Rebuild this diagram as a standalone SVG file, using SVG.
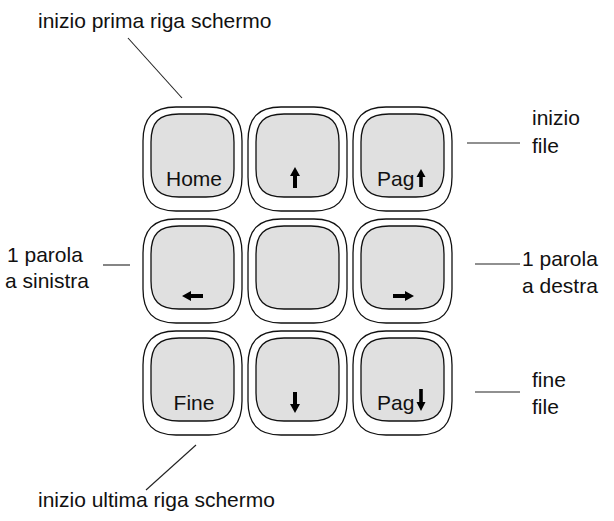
<svg xmlns="http://www.w3.org/2000/svg" xmlns:xlink="http://www.w3.org/1999/xlink" width="614" height="521" viewBox="0 0 614 521">
  <style>
    .outer { fill: #ffffff; stroke: #111; stroke-width: 1.3; }
    .inner { fill: #e0e0e0; stroke: #111; stroke-width: 1.3; }
    .lbl { font-family: "Liberation Sans", Arial, Helvetica, sans-serif; font-size: 21px; fill: #111; }
    .keytxt { font-family: "Liberation Sans", Arial, Helvetica, sans-serif; font-size: 21px; fill: #111; text-anchor: middle; }
    .lead { stroke: #222; stroke-width: 1.1; fill: none; }
    .arr { fill: #000; }
  </style>
  <defs>
    <!-- rounded key cap: outer rim and inner face -->
    <path id="rim" class="outer" d="M33,0 H66 C89,0 99,11 99,34 V70 C99,93 89,104 66,104 H33 C10,104 0,93 0,70 V34 C0,11 10,0 33,0 Z"/>
    <path id="face" class="inner" d="M28,0 H55 C75,0 83,8 83,28 V55 C83,75 75,83 55,83 H28 C8,83 0,75 0,55 V28 C0,8 8,0 28,0 Z"/>
    <!-- upward arrow, tip at origin -->
    <path id="up" class="arr" d="M0,0 L5,9 H2 V21 H-2 V9 H-5 Z"/>
  </defs>

  <!-- keys -->
  <g id="key-home">
    <use xlink:href="#rim" x="143" y="107"/>
    <use xlink:href="#face" x="151" y="114"/>
    <text class="keytxt" x="194" y="186">Home</text>
  </g>
  <g id="key-up">
    <use xlink:href="#rim" x="248" y="107"/>
    <use xlink:href="#face" x="256" y="114"/>
    <use xlink:href="#up" x="295" y="167"/>
  </g>
  <g id="key-pagup">
    <use xlink:href="#rim" x="353" y="107"/>
    <use xlink:href="#face" x="361" y="114"/>
    <text class="lbl" x="377" y="186">Pag</text>
    <path class="arr" d="M421,169 L425.5,177 H422.8 V187 H419.2 V177 H416.5 Z"/>
  </g>

  <g id="key-left">
    <use xlink:href="#rim" x="143" y="219"/>
    <use xlink:href="#face" x="151" y="226"/>
    <use xlink:href="#up" transform="translate(182,296) rotate(-90)"/>
  </g>
  <g id="key-center">
    <use xlink:href="#rim" x="248" y="219"/>
    <use xlink:href="#face" x="256" y="226"/>
  </g>
  <g id="key-right">
    <use xlink:href="#rim" x="353" y="219"/>
    <use xlink:href="#face" x="361" y="226"/>
    <use xlink:href="#up" transform="translate(414,296) rotate(90)"/>
  </g>

  <g id="key-fine">
    <use xlink:href="#rim" x="143" y="331"/>
    <use xlink:href="#face" x="151" y="338"/>
    <text class="keytxt" x="194" y="410">Fine</text>
  </g>
  <g id="key-down">
    <use xlink:href="#rim" x="248" y="331"/>
    <use xlink:href="#face" x="256" y="338"/>
    <use xlink:href="#up" transform="translate(295,413) rotate(180)"/>
  </g>
  <g id="key-pagdown">
    <use xlink:href="#rim" x="353" y="331"/>
    <use xlink:href="#face" x="361" y="338"/>
    <text class="lbl" x="377" y="410">Pag</text>
    <path class="arr" d="M421,411 L425.5,402 H422.8 V389 H419.2 V402 H416.5 Z"/>
  </g>

  <!-- leader lines -->
  <g id="connectors">
    <line class="lead" x1="128" y1="38" x2="182" y2="98"/>
    <line class="lead" x1="196" y1="445" x2="146" y2="490"/>
    <line class="lead" x1="103" y1="265" x2="130" y2="265"/>
    <line class="lead" x1="467" y1="143" x2="520" y2="143"/>
    <line class="lead" x1="475" y1="264" x2="520" y2="264"/>
    <line class="lead" x1="475" y1="392" x2="520" y2="392"/>
  </g>

  <!-- callout labels -->
  <g id="labels">
    <text class="lbl" x="38" y="28">inizio prima riga schermo</text>
    <text class="lbl" x="38" y="507">inizio ultima riga schermo</text>
    <text class="lbl" x="7" y="262">1 parola</text>
    <text class="lbl" x="5" y="288">a sinistra</text>
    <text class="lbl" x="532" y="125">inizio</text>
    <text class="lbl" x="532" y="153">file</text>
    <text class="lbl" x="522" y="266">1 parola</text>
    <text class="lbl" x="522" y="293">a destra</text>
    <text class="lbl" x="532" y="387">fine</text>
    <text class="lbl" x="532" y="414">file</text>
  </g>
</svg>
